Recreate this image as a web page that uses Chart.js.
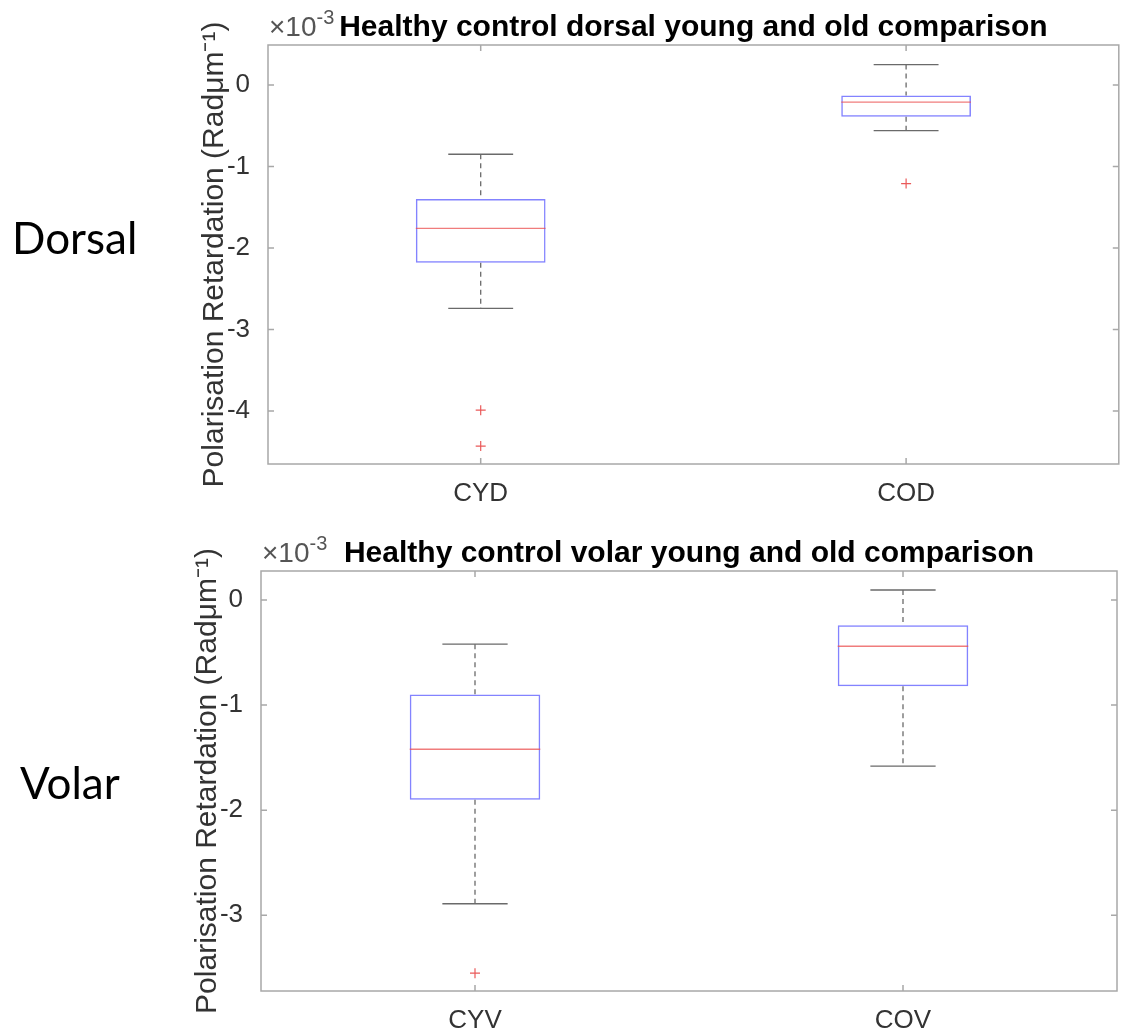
<!DOCTYPE html>
<html>
<head>
<meta charset="utf-8">
<script src="https://cdn.jsdelivr.net/npm/chart.js@4.4.1/dist/chart.umd.min.js"></script>
<style>
    body { margin: 0; background: #fff; width: 1125px; height: 1034px; overflow: hidden; position: relative; }
    canvas { position: absolute; left: 0; }
</style>
</head>
<body>
<canvas id="dorsal" width="1125" height="515" style="top:0"></canvas>
<canvas id="volar" width="1125" height="519" style="top:515px"></canvas>
<script>
// valores (x10^-3)
const dorsalLabels = ['CYD', 'COD']
const dorsalQ1 = [-2.18, -0.39]
const dorsalMedian = [-1.76, -0.21]
const dorsalQ3 = [-1.40, -0.13]
const dorsalLow = [-2.74, -0.56]
const dorsalHigh = [-0.85, 0.25]
const dorsalOutliers = [[-3.99, -4.43], [-1.21]]
const dorsalTicks = [-4, -3, -2, -1, 0]

const volarLabels = ['CYV', 'COV']
const volarQ1 = [-1.90, -0.82]
const volarMedian = [-1.42, -0.44]
const volarQ3 = [-0.90, -0.24]
const volarLow = [-2.89, -1.58]
const volarHigh = [-0.42, 0.095]
const volarOutliers = [[-3.55], []]
const volarTicks = [-3, -2, -1, 0]

const FONT = '"Liberation Sans", Arial, sans-serif'
const yTitle = 'Polarisation Retardation (Radμm⁻¹)'

const boxPlugin = {
    id: 'boxPlugin',
    afterDatasetsDraw(chart) {
        const o = chart.options.plugins.boxPlugin
        const ctx = chart.ctx
        const x = chart.scales.x
        const y = chart.scales.y
        const bars = chart.getDatasetMeta(0).data
        ctx.save()
        o.labels.forEach((lab, i) => {
            const cx = x.getPixelForValue(i)
            const w = bars[i].width
            const top = y.getPixelForValue(o.q3[i])
            const bot = y.getPixelForValue(o.q1[i])
            const hi = y.getPixelForValue(o.high[i])
            const lo = y.getPixelForValue(o.low[i])
            // whiskers
            ctx.strokeStyle = '#6a6a6a'
            ctx.lineWidth = 1.3
            ctx.setLineDash([5, 4])
            ctx.beginPath()
            ctx.moveTo(cx, hi); ctx.lineTo(cx, top)
            ctx.moveTo(cx, bot); ctx.lineTo(cx, lo)
            ctx.stroke()
            ctx.setLineDash([])
            ctx.beginPath()
            ctx.moveTo(cx - w / 4, hi); ctx.lineTo(cx + w / 4, hi)
            ctx.moveTo(cx - w / 4, lo); ctx.lineTo(cx + w / 4, lo)
            ctx.stroke()
            // mediana
            const med = y.getPixelForValue(o.median[i])
            ctx.strokeStyle = 'rgba(235, 80, 80, 0.75)'
            ctx.beginPath()
            ctx.moveTo(cx - w / 2, med); ctx.lineTo(cx + w / 2, med)
            ctx.stroke()
        })
        ctx.restore()
    },
    afterDraw(chart) {
        const o = chart.options.plugins.boxPlugin
        const ctx = chart.ctx
        const ca = chart.chartArea
        const x = chart.scales.x
        const y = chart.scales.y
        ctx.save()
        // caixa dos eixos + ticks para dentro
        ctx.strokeStyle = '#a8a8a8'
        ctx.lineWidth = 1.5
        ctx.strokeRect(ca.left, ca.top, ca.right - ca.left, ca.bottom - ca.top)
        ctx.beginPath()
        o.ticks.forEach(v => {
            const py = y.getPixelForValue(v)
            ctx.moveTo(ca.left, py); ctx.lineTo(ca.left + 6, py)
            ctx.moveTo(ca.right, py); ctx.lineTo(ca.right - 6, py)
        })
        o.labels.forEach((lab, i) => {
            const px = x.getPixelForValue(i)
            ctx.moveTo(px, ca.bottom); ctx.lineTo(px, ca.bottom - 6)
            ctx.moveTo(px, ca.top); ctx.lineTo(px, ca.top + 6)
        })
        ctx.stroke()

        // titulo
        ctx.fillStyle = '#000'
        ctx.font = 'bold 30px ' + FONT
        ctx.textAlign = 'center'
        ctx.textBaseline = 'alphabetic'
        ctx.fillText(o.title, (ca.left + ca.right) / 2, ca.top - 9)

        // x10^-3
        ctx.fillStyle = '#555'
        ctx.textAlign = 'left'
        ctx.font = '28px ' + FONT
        ctx.fillText('×10', ca.left + 1, ca.top - 9)
        const w10 = ctx.measureText('×10').width
        ctx.font = '20px ' + FONT
        ctx.fillText('-3', ca.left + 1 + w10, ca.top - 21)

        // rótulo lateral
        ctx.fillStyle = '#000'
        ctx.font = '44px Lato, sans-serif'
        ctx.fillText(o.side[0], o.side[1], o.side[2])
        ctx.restore()
    }
}

function makeBoxChart(id, d) {
    const points = d.outliers.flatMap((arr, i) => arr.map(v => ({ x: d.labels[i], y: v })))
    return new Chart(document.getElementById(id), {
        type: 'bar',
        data: {
            labels: d.labels,
            datasets: [{
                data: d.labels.map((_, i) => [d.q1[i], d.q3[i]]),
                backgroundColor: 'rgba(0,0,0,0)',
                borderColor: 'rgba(90, 90, 255, 0.75)',
                borderWidth: 1.5,
                borderSkipped: false,
                barPercentage: 0.305,
                categoryPercentage: 1
            }, {
                type: 'line',
                data: points,
                showLine: false,
                pointStyle: 'cross',
                pointRadius: 5,
                borderColor: 'rgba(230, 60, 60, 0.85)',
                borderWidth: 1.2
            }]
        },
        options: {
            responsive: false,
            animation: false,
            layout: { padding: d.padding },
            plugins: {
                legend: { display: false },
                tooltip: { enabled: false },
                boxPlugin: {
                    labels: d.labels, q1: d.q1, q3: d.q3, median: d.median,
                    low: d.low, high: d.high, ticks: d.ticks, title: d.title, side: d.side
                }
            },
            scales: {
                x: {
                    offset: true,
                    grid: { display: false, drawTicks: false },
                    border: { display: false },
                    ticks: { font: { family: FONT, size: 26 }, color: '#333', padding: 14 },
                    afterFit: s => { s.height = d.xHeight }
                },
                y: {
                    min: d.min,
                    max: d.max,
                    grid: { display: false, drawTicks: false },
                    border: { display: false },
                    ticks: { font: { family: FONT, size: 26 }, color: '#333', padding: 18 },
                    afterBuildTicks: s => { s.ticks = d.ticks.map(v => ({ value: v })) },
                    afterFit: s => { s.width = 71 },
                    title: { display: true, text: yTitle, font: { family: FONT, size: 30 }, color: '#333', padding: 0 }
                }
            }
        },
        plugins: [boxPlugin]
    })
}

makeBoxChart('dorsal', {
    labels: dorsalLabels, q1: dorsalQ1, q3: dorsalQ3, median: dorsalMedian,
    low: dorsalLow, high: dorsalHigh, outliers: dorsalOutliers, ticks: dorsalTicks,
    min: -4.65, max: 0.49,
    title: 'Healthy control dorsal young and old comparison',
    side: ['Dorsal', 12, 254],
    padding: { top: 45, left: 197, right: 4, bottom: 0 },
    xHeight: 51
})

makeBoxChart('volar', {
    labels: volarLabels, q1: volarQ1, q3: volarQ3, median: volarMedian,
    low: volarLow, high: volarHigh, outliers: volarOutliers, ticks: volarTicks,
    min: -3.72, max: 0.276,
    title: 'Healthy control volar young and old comparison',
    side: ['Volar', 20, 284],
    padding: { top: 56, left: 190, right: 8, bottom: 0 },
    xHeight: 43
})
</script>
</body>
</html>
